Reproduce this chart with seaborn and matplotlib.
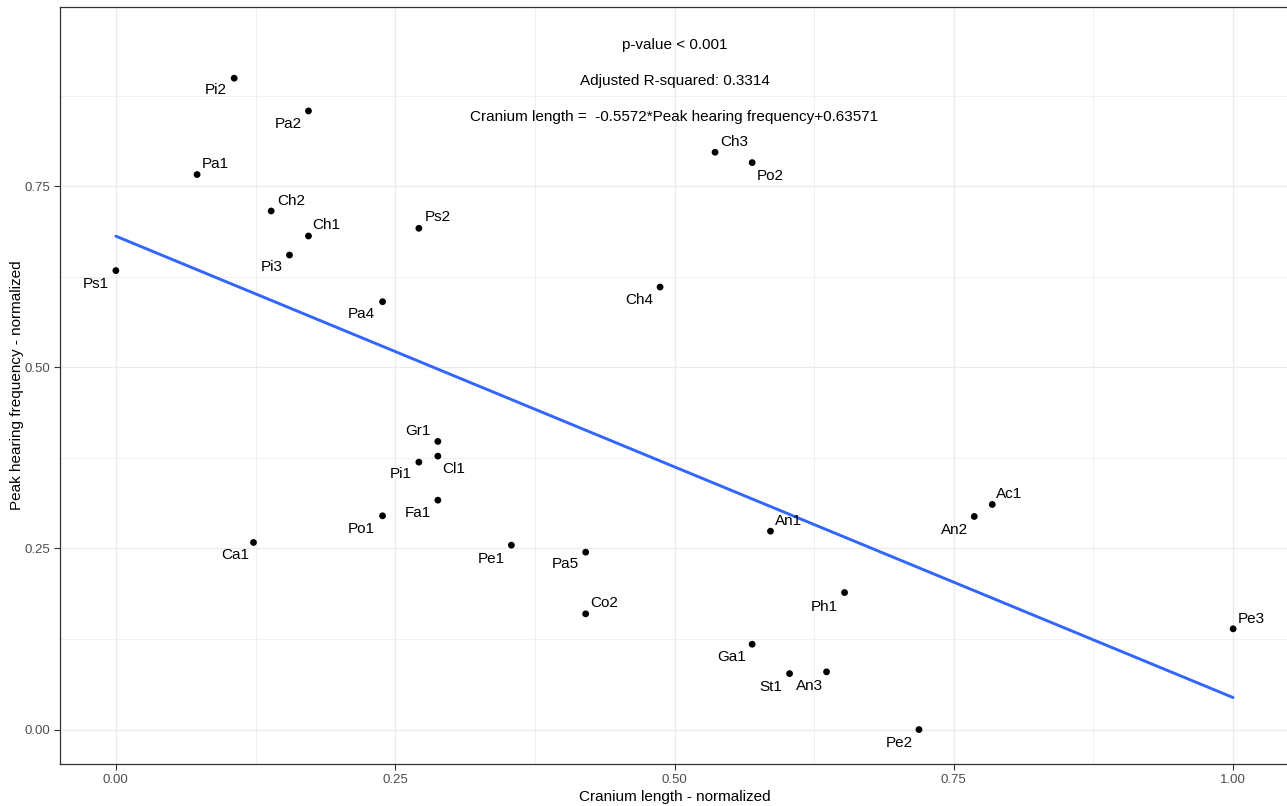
import matplotlib
matplotlib.use("Agg")
import matplotlib.pyplot as plt
import seaborn as sns
import pandas as pd

# ---------------- data ----------------
labels = ["Pi2", "Pa2", "Pa1", "Ch2", "Ch1", "Pi3", "Ps2", "Ps1", "Pa4",
          "Ch3", "Po2", "Ch4", "Gr1", "Cl1", "Pi1", "Fa1", "Po1", "Ca1",
          "Pe1", "Pa5", "Co2", "An1", "Ac1", "An2", "Ph1", "Pe3", "Ga1",
          "St1", "An3", "Pe2"]
cranium_length = [0.1059, 0.1724, 0.0727, 0.1390, 0.1724, 0.1554, 0.2712, 0.0000, 0.2387,
                  0.5363, 0.5695, 0.4871, 0.2882, 0.2882, 0.2712, 0.2882, 0.2387, 0.1232,
                  0.3540, 0.4205, 0.4205, 0.5859, 0.7844, 0.7683, 0.6522, 1.0000, 0.5695,
                  0.6030, 0.6361, 0.7188]
peak_freq = [0.8992, 0.8540, 0.7662, 0.7159, 0.6814, 0.6551, 0.6920, 0.6336, 0.5907,
             0.7970, 0.7827, 0.6109, 0.3978, 0.3775, 0.3692, 0.3167, 0.2951, 0.2583,
             0.2546, 0.2449, 0.1598, 0.2739, 0.3108, 0.2942, 0.1892, 0.1391, 0.1178,
             0.0773, 0.0797, 0.0000]
x_ticks = [0.00, 0.25, 0.50, 0.75, 1.00]
y_ticks = [0.00, 0.25, 0.50, 0.75]
x_tick_labels = ["0.00", "0.25", "0.50", "0.75", "1.00"]
y_tick_labels = ["0.00", "0.25", "0.50", "0.75"]
stats_lines = ["p-value < 0.001",
               "Adjusted R-squared: 0.3314",
               "Cranium length =  -0.5572*Peak hearing frequency+0.63571"]
stats_y = [0.945, 0.896, 0.845]
x_title = "Cranium length - normalized"
y_title = "Peak hearing frequency - normalized"

# ---------------- layout (label offsets in pixels: right, up) ----------------
label_offsets = {
    "Pi2": (-18, -12), "Pa2": (-20, -13), "Pa1": (18, 11), "Ch2": (20, 10),
    "Ch1": (18, 11), "Pi3": (-18, -12), "Ps2": (19, 11), "Ps1": (-20, -13),
    "Pa4": (-21, -12), "Ch3": (19, 10), "Po2": (18, -13), "Ch4": (-21, -13),
    "Gr1": (-20, 10), "Cl1": (16, -13), "Pi1": (-18, -12), "Fa1": (-20, -13),
    "Po1": (-21, -13), "Ca1": (-18, -13), "Pe1": (-20, -14), "Pa5": (-20, -12),
    "Co2": (19, 11), "An1": (18, 10), "Ac1": (17, 10), "An2": (-20, -14),
    "Ph1": (-20, -14), "Pe3": (18, 10), "Ga1": (-21, -13), "St1": (-19, -13),
    "An3": (-17, -14), "Pe2": (-20, -13),
}

df = pd.DataFrame({"label": labels, "x": cranium_length, "y": peak_freq})

sns.set_theme(style="white")
plt.rcParams["font.family"] = ["Liberation Sans", "DejaVu Sans"]

W, H = 1287, 806
fig = plt.figure(figsize=(W / 100, H / 100), dpi=100)
ax = fig.add_axes([60 / W, 1 - 764 / H, (1289 - 60) / W, (764 - 7) / H])

grid_c = "#EBEBEB"
ax.set_xlim(-0.05, 1.05)
ax.set_ylim(-0.0475, 0.9975)
ax.set_xticks(x_ticks)
ax.set_xticklabels(x_tick_labels)
ax.set_yticks(y_ticks)
ax.set_yticklabels(y_tick_labels)
ax.set_xticks([0.125, 0.375, 0.625, 0.875], minor=True)
ax.set_yticks([0.125, 0.375, 0.625, 0.875], minor=True)
ax.grid(True, which="major", color=grid_c, linewidth=0.9, zorder=0)
ax.grid(True, which="minor", color=grid_c, linewidth=0.5, zorder=0)
ax.set_axisbelow(True)

sns.regplot(data=df, x="x", y="y", scatter=False, ci=None, color="#3366FF",
            line_kws={"linewidth": 2.1, "zorder": 2}, ax=ax)
sns.scatterplot(data=df, x="x", y="y", color="black", s=24, edgecolor="none",
                zorder=3, ax=ax, legend=False)

for lab, xv, yv in zip(labels, cranium_length, peak_freq):
    dx, dy = label_offsets[lab]
    ax.annotate(lab, (xv, yv), xytext=(dx, dy), textcoords="offset pixels",
                ha="center", va="center", fontsize=11, color="black", zorder=4)

for txt, yv in zip(stats_lines, stats_y):
    ax.text(0.5, yv, txt, ha="center", va="center", fontsize=11, color="black")

ax.set_xlabel(x_title, fontsize=11, color="black", labelpad=3)
ax.set_ylabel(y_title, fontsize=11, color="black", labelpad=0.5)
ax.tick_params(axis="both", which="major", labelsize=9.5, labelcolor="#4D4D4D",
               length=4, width=0.8, color="#333333", pad=3, bottom=True, left=True)
ax.tick_params(axis="both", which="minor", length=0)
for sp in ax.spines.values():
    sp.set_color("#333333")
    sp.set_linewidth(0.9)

fig.savefig("out.png", dpi=100)
